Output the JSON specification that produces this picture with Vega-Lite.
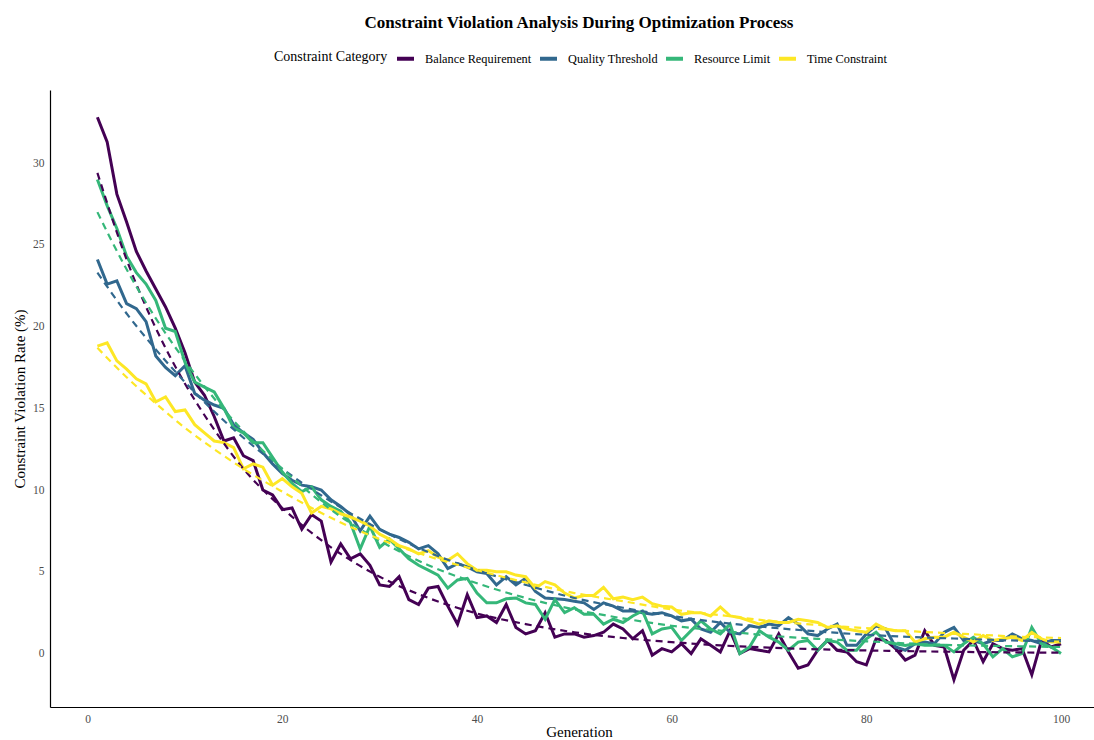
{
"$schema": "https://vega.github.io/schema/vega-lite/v6.json",
"width": 1044, "height": 617,
"autosize": {"type": "none"},
"padding": {"left": 50, "top": 90, "right": 0, "bottom": 33},
"background": "white",
"config": {"view": {"stroke": null}, "font": "Liberation Serif"},
"title": {"text": "Constraint Violation Analysis During Optimization Process", "fontSize": 17, "fontWeight": "bold", "font": "Liberation Serif", "color": "black", "anchor": "middle", "frame": "group", "offset": 16, "dx": 7},
"datasets": {
"obs": [
{"gen":1,"cat":"Balance Requirement","rate":32.8},{"gen":2,"cat":"Balance Requirement","rate":31.3},{"gen":3,"cat":"Balance Requirement","rate":28.1},{"gen":4,"cat":"Balance Requirement","rate":26.4},{"gen":5,"cat":"Balance Requirement","rate":24.6},{"gen":6,"cat":"Balance Requirement","rate":23.4},{"gen":7,"cat":"Balance Requirement","rate":22.3},{"gen":8,"cat":"Balance Requirement","rate":21.2},{"gen":9,"cat":"Balance Requirement","rate":19.9},{"gen":10,"cat":"Balance Requirement","rate":18.4},
{"gen":11,"cat":"Balance Requirement","rate":16.6},{"gen":12,"cat":"Balance Requirement","rate":15.8},{"gen":13,"cat":"Balance Requirement","rate":14.5},{"gen":14,"cat":"Balance Requirement","rate":13.0},{"gen":15,"cat":"Balance Requirement","rate":13.2},{"gen":16,"cat":"Balance Requirement","rate":12.1},{"gen":17,"cat":"Balance Requirement","rate":11.8},{"gen":18,"cat":"Balance Requirement","rate":10.0},{"gen":19,"cat":"Balance Requirement","rate":9.7},{"gen":20,"cat":"Balance Requirement","rate":8.8},
{"gen":21,"cat":"Balance Requirement","rate":8.9},{"gen":22,"cat":"Balance Requirement","rate":7.6},{"gen":23,"cat":"Balance Requirement","rate":8.5},{"gen":24,"cat":"Balance Requirement","rate":8.1},{"gen":25,"cat":"Balance Requirement","rate":5.6},{"gen":26,"cat":"Balance Requirement","rate":6.7},{"gen":27,"cat":"Balance Requirement","rate":5.8},{"gen":28,"cat":"Balance Requirement","rate":6.1},{"gen":29,"cat":"Balance Requirement","rate":5.4},{"gen":30,"cat":"Balance Requirement","rate":4.2},
{"gen":31,"cat":"Balance Requirement","rate":4.1},{"gen":32,"cat":"Balance Requirement","rate":4.7},{"gen":33,"cat":"Balance Requirement","rate":3.3},{"gen":34,"cat":"Balance Requirement","rate":3.0},{"gen":35,"cat":"Balance Requirement","rate":4.0},{"gen":36,"cat":"Balance Requirement","rate":4.1},{"gen":37,"cat":"Balance Requirement","rate":2.9},{"gen":38,"cat":"Balance Requirement","rate":1.8},{"gen":39,"cat":"Balance Requirement","rate":3.6},{"gen":40,"cat":"Balance Requirement","rate":2.2},
{"gen":41,"cat":"Balance Requirement","rate":2.3},{"gen":42,"cat":"Balance Requirement","rate":1.9},{"gen":43,"cat":"Balance Requirement","rate":3.0},{"gen":44,"cat":"Balance Requirement","rate":1.6},{"gen":45,"cat":"Balance Requirement","rate":1.2},{"gen":46,"cat":"Balance Requirement","rate":1.4},{"gen":47,"cat":"Balance Requirement","rate":2.5},{"gen":48,"cat":"Balance Requirement","rate":1.0},{"gen":49,"cat":"Balance Requirement","rate":1.2},{"gen":50,"cat":"Balance Requirement","rate":1.2},
{"gen":51,"cat":"Balance Requirement","rate":1.0},{"gen":52,"cat":"Balance Requirement","rate":1.1},{"gen":53,"cat":"Balance Requirement","rate":1.3},{"gen":54,"cat":"Balance Requirement","rate":1.8},{"gen":55,"cat":"Balance Requirement","rate":1.5},{"gen":56,"cat":"Balance Requirement","rate":0.9},{"gen":57,"cat":"Balance Requirement","rate":1.4},{"gen":58,"cat":"Balance Requirement","rate":-0.1},{"gen":59,"cat":"Balance Requirement","rate":0.3},{"gen":60,"cat":"Balance Requirement","rate":0.1},
{"gen":61,"cat":"Balance Requirement","rate":0.6},{"gen":62,"cat":"Balance Requirement","rate":0.0},{"gen":63,"cat":"Balance Requirement","rate":0.9},{"gen":64,"cat":"Balance Requirement","rate":0.5},{"gen":65,"cat":"Balance Requirement","rate":0.1},{"gen":66,"cat":"Balance Requirement","rate":1.4},{"gen":67,"cat":"Balance Requirement","rate":0.0},{"gen":68,"cat":"Balance Requirement","rate":0.3},{"gen":69,"cat":"Balance Requirement","rate":0.2},{"gen":70,"cat":"Balance Requirement","rate":0.1},
{"gen":71,"cat":"Balance Requirement","rate":1.2},{"gen":72,"cat":"Balance Requirement","rate":0.1},{"gen":73,"cat":"Balance Requirement","rate":-0.9},{"gen":74,"cat":"Balance Requirement","rate":-0.7},{"gen":75,"cat":"Balance Requirement","rate":0.2},{"gen":76,"cat":"Balance Requirement","rate":0.8},{"gen":77,"cat":"Balance Requirement","rate":0.2},{"gen":78,"cat":"Balance Requirement","rate":0.1},{"gen":79,"cat":"Balance Requirement","rate":-0.5},{"gen":80,"cat":"Balance Requirement","rate":-0.7},
{"gen":81,"cat":"Balance Requirement","rate":0.9},{"gen":82,"cat":"Balance Requirement","rate":0.8},{"gen":83,"cat":"Balance Requirement","rate":0.3},{"gen":84,"cat":"Balance Requirement","rate":-0.4},{"gen":85,"cat":"Balance Requirement","rate":-0.1},{"gen":86,"cat":"Balance Requirement","rate":1.4},{"gen":87,"cat":"Balance Requirement","rate":0.5},{"gen":88,"cat":"Balance Requirement","rate":0.4},{"gen":89,"cat":"Balance Requirement","rate":-1.6},{"gen":90,"cat":"Balance Requirement","rate":0.2},
{"gen":91,"cat":"Balance Requirement","rate":0.8},{"gen":92,"cat":"Balance Requirement","rate":-0.5},{"gen":93,"cat":"Balance Requirement","rate":0.6},{"gen":94,"cat":"Balance Requirement","rate":0.3},{"gen":95,"cat":"Balance Requirement","rate":0.2},{"gen":96,"cat":"Balance Requirement","rate":0.3},{"gen":97,"cat":"Balance Requirement","rate":-1.3},{"gen":98,"cat":"Balance Requirement","rate":0.8},{"gen":99,"cat":"Balance Requirement","rate":0.4},{"gen":100,"cat":"Balance Requirement","rate":0.6},
{"gen":1,"cat":"Quality Threshold","rate":24.1},{"gen":2,"cat":"Quality Threshold","rate":22.6},{"gen":3,"cat":"Quality Threshold","rate":22.8},{"gen":4,"cat":"Quality Threshold","rate":21.4},{"gen":5,"cat":"Quality Threshold","rate":21.1},{"gen":6,"cat":"Quality Threshold","rate":20.3},{"gen":7,"cat":"Quality Threshold","rate":18.2},{"gen":8,"cat":"Quality Threshold","rate":17.5},{"gen":9,"cat":"Quality Threshold","rate":17.0},{"gen":10,"cat":"Quality Threshold","rate":17.6},
{"gen":11,"cat":"Quality Threshold","rate":15.9},{"gen":12,"cat":"Quality Threshold","rate":15.5},{"gen":13,"cat":"Quality Threshold","rate":15.2},{"gen":14,"cat":"Quality Threshold","rate":15.0},{"gen":15,"cat":"Quality Threshold","rate":14.0},{"gen":16,"cat":"Quality Threshold","rate":13.5},{"gen":17,"cat":"Quality Threshold","rate":13.1},{"gen":18,"cat":"Quality Threshold","rate":12.3},{"gen":19,"cat":"Quality Threshold","rate":11.6},{"gen":20,"cat":"Quality Threshold","rate":11.0},
{"gen":21,"cat":"Quality Threshold","rate":10.6},{"gen":22,"cat":"Quality Threshold","rate":10.3},{"gen":23,"cat":"Quality Threshold","rate":10.2},{"gen":24,"cat":"Quality Threshold","rate":10.0},{"gen":25,"cat":"Quality Threshold","rate":9.4},{"gen":26,"cat":"Quality Threshold","rate":9.0},{"gen":27,"cat":"Quality Threshold","rate":8.5},{"gen":28,"cat":"Quality Threshold","rate":7.5},{"gen":29,"cat":"Quality Threshold","rate":8.4},{"gen":30,"cat":"Quality Threshold","rate":7.6},
{"gen":31,"cat":"Quality Threshold","rate":7.3},{"gen":32,"cat":"Quality Threshold","rate":7.1},{"gen":33,"cat":"Quality Threshold","rate":6.8},{"gen":34,"cat":"Quality Threshold","rate":6.4},{"gen":35,"cat":"Quality Threshold","rate":6.6},{"gen":36,"cat":"Quality Threshold","rate":6.1},{"gen":37,"cat":"Quality Threshold","rate":5.2},{"gen":38,"cat":"Quality Threshold","rate":5.5},{"gen":39,"cat":"Quality Threshold","rate":5.3},{"gen":40,"cat":"Quality Threshold","rate":5.0},
{"gen":41,"cat":"Quality Threshold","rate":4.9},{"gen":42,"cat":"Quality Threshold","rate":4.2},{"gen":43,"cat":"Quality Threshold","rate":4.7},{"gen":44,"cat":"Quality Threshold","rate":4.2},{"gen":45,"cat":"Quality Threshold","rate":4.6},{"gen":46,"cat":"Quality Threshold","rate":3.8},{"gen":47,"cat":"Quality Threshold","rate":3.4},{"gen":48,"cat":"Quality Threshold","rate":3.35},{"gen":49,"cat":"Quality Threshold","rate":3.3},{"gen":50,"cat":"Quality Threshold","rate":3.2},
{"gen":51,"cat":"Quality Threshold","rate":3.1},{"gen":52,"cat":"Quality Threshold","rate":2.7},{"gen":53,"cat":"Quality Threshold","rate":3.1},{"gen":54,"cat":"Quality Threshold","rate":2.9},{"gen":55,"cat":"Quality Threshold","rate":2.6},{"gen":56,"cat":"Quality Threshold","rate":2.6},{"gen":57,"cat":"Quality Threshold","rate":2.5},{"gen":58,"cat":"Quality Threshold","rate":2.4},{"gen":59,"cat":"Quality Threshold","rate":2.5},{"gen":60,"cat":"Quality Threshold","rate":2.3},
{"gen":61,"cat":"Quality Threshold","rate":2.0},{"gen":62,"cat":"Quality Threshold","rate":2.1},{"gen":63,"cat":"Quality Threshold","rate":1.5},{"gen":64,"cat":"Quality Threshold","rate":1.3},{"gen":65,"cat":"Quality Threshold","rate":1.9},{"gen":66,"cat":"Quality Threshold","rate":1.3},{"gen":67,"cat":"Quality Threshold","rate":1.2},{"gen":68,"cat":"Quality Threshold","rate":1.7},{"gen":69,"cat":"Quality Threshold","rate":1.6},{"gen":70,"cat":"Quality Threshold","rate":1.8},
{"gen":71,"cat":"Quality Threshold","rate":1.7},{"gen":72,"cat":"Quality Threshold","rate":2.2},{"gen":73,"cat":"Quality Threshold","rate":1.8},{"gen":74,"cat":"Quality Threshold","rate":1.2},{"gen":75,"cat":"Quality Threshold","rate":1.1},{"gen":76,"cat":"Quality Threshold","rate":1.5},{"gen":77,"cat":"Quality Threshold","rate":1.8},{"gen":78,"cat":"Quality Threshold","rate":0.5},{"gen":79,"cat":"Quality Threshold","rate":0.5},{"gen":80,"cat":"Quality Threshold","rate":1.2},
{"gen":81,"cat":"Quality Threshold","rate":1.7},{"gen":82,"cat":"Quality Threshold","rate":1.5},{"gen":83,"cat":"Quality Threshold","rate":0.4},{"gen":84,"cat":"Quality Threshold","rate":0.2},{"gen":85,"cat":"Quality Threshold","rate":0.6},{"gen":86,"cat":"Quality Threshold","rate":0.7},{"gen":87,"cat":"Quality Threshold","rate":0.6},{"gen":88,"cat":"Quality Threshold","rate":1.3},{"gen":89,"cat":"Quality Threshold","rate":1.6},{"gen":90,"cat":"Quality Threshold","rate":0.8},
{"gen":91,"cat":"Quality Threshold","rate":0.8},{"gen":92,"cat":"Quality Threshold","rate":0.6},{"gen":93,"cat":"Quality Threshold","rate":0.8},{"gen":94,"cat":"Quality Threshold","rate":0.8},{"gen":95,"cat":"Quality Threshold","rate":1.2},{"gen":96,"cat":"Quality Threshold","rate":0.9},{"gen":97,"cat":"Quality Threshold","rate":0.8},{"gen":98,"cat":"Quality Threshold","rate":0.6},{"gen":99,"cat":"Quality Threshold","rate":0.8},{"gen":100,"cat":"Quality Threshold","rate":0.8},
{"gen":1,"cat":"Resource Limit","rate":29.0},{"gen":2,"cat":"Resource Limit","rate":27.4},{"gen":3,"cat":"Resource Limit","rate":26.0},{"gen":4,"cat":"Resource Limit","rate":24.3},{"gen":5,"cat":"Resource Limit","rate":23.3},{"gen":6,"cat":"Resource Limit","rate":22.6},{"gen":7,"cat":"Resource Limit","rate":21.6},{"gen":8,"cat":"Resource Limit","rate":19.9},{"gen":9,"cat":"Resource Limit","rate":19.7},{"gen":10,"cat":"Resource Limit","rate":17.8},
{"gen":11,"cat":"Resource Limit","rate":16.6},{"gen":12,"cat":"Resource Limit","rate":16.3},{"gen":13,"cat":"Resource Limit","rate":16.0},{"gen":14,"cat":"Resource Limit","rate":15.0},{"gen":15,"cat":"Resource Limit","rate":13.8},{"gen":16,"cat":"Resource Limit","rate":13.5},{"gen":17,"cat":"Resource Limit","rate":12.9},{"gen":18,"cat":"Resource Limit","rate":12.9},{"gen":19,"cat":"Resource Limit","rate":12.0},{"gen":20,"cat":"Resource Limit","rate":11.1},
{"gen":21,"cat":"Resource Limit","rate":10.4},{"gen":22,"cat":"Resource Limit","rate":9.9},{"gen":23,"cat":"Resource Limit","rate":10.2},{"gen":24,"cat":"Resource Limit","rate":9.4},{"gen":25,"cat":"Resource Limit","rate":9.0},{"gen":26,"cat":"Resource Limit","rate":8.7},{"gen":27,"cat":"Resource Limit","rate":8.0},{"gen":28,"cat":"Resource Limit","rate":6.4},{"gen":29,"cat":"Resource Limit","rate":7.8},{"gen":30,"cat":"Resource Limit","rate":6.5},
{"gen":31,"cat":"Resource Limit","rate":7.0},{"gen":32,"cat":"Resource Limit","rate":6.4},{"gen":33,"cat":"Resource Limit","rate":5.8},{"gen":34,"cat":"Resource Limit","rate":5.4},{"gen":35,"cat":"Resource Limit","rate":5.1},{"gen":36,"cat":"Resource Limit","rate":4.8},{"gen":37,"cat":"Resource Limit","rate":4.0},{"gen":38,"cat":"Resource Limit","rate":4.5},{"gen":39,"cat":"Resource Limit","rate":4.6},{"gen":40,"cat":"Resource Limit","rate":3.7},
{"gen":41,"cat":"Resource Limit","rate":3.1},{"gen":42,"cat":"Resource Limit","rate":3.1},{"gen":43,"cat":"Resource Limit","rate":3.35},{"gen":44,"cat":"Resource Limit","rate":3.4},{"gen":45,"cat":"Resource Limit","rate":3.1},{"gen":46,"cat":"Resource Limit","rate":3.0},{"gen":47,"cat":"Resource Limit","rate":2.1},{"gen":48,"cat":"Resource Limit","rate":3.3},{"gen":49,"cat":"Resource Limit","rate":2.5},{"gen":50,"cat":"Resource Limit","rate":2.8},
{"gen":51,"cat":"Resource Limit","rate":2.4},{"gen":52,"cat":"Resource Limit","rate":2.4},{"gen":53,"cat":"Resource Limit","rate":1.8},{"gen":54,"cat":"Resource Limit","rate":2.1},{"gen":55,"cat":"Resource Limit","rate":1.9},{"gen":56,"cat":"Resource Limit","rate":2.3},{"gen":57,"cat":"Resource Limit","rate":2.6},{"gen":58,"cat":"Resource Limit","rate":1.2},{"gen":59,"cat":"Resource Limit","rate":1.5},{"gen":60,"cat":"Resource Limit","rate":1.6},
{"gen":61,"cat":"Resource Limit","rate":0.8},{"gen":62,"cat":"Resource Limit","rate":1.4},{"gen":63,"cat":"Resource Limit","rate":2.0},{"gen":64,"cat":"Resource Limit","rate":1.5},{"gen":65,"cat":"Resource Limit","rate":1.2},{"gen":66,"cat":"Resource Limit","rate":1.8},{"gen":67,"cat":"Resource Limit","rate":0.0},{"gen":68,"cat":"Resource Limit","rate":0.4},{"gen":69,"cat":"Resource Limit","rate":1.4},{"gen":70,"cat":"Resource Limit","rate":1.0},
{"gen":71,"cat":"Resource Limit","rate":0.7},{"gen":72,"cat":"Resource Limit","rate":0.2},{"gen":73,"cat":"Resource Limit","rate":0.7},{"gen":74,"cat":"Resource Limit","rate":0.8},{"gen":75,"cat":"Resource Limit","rate":0.2},{"gen":76,"cat":"Resource Limit","rate":0.8},{"gen":77,"cat":"Resource Limit","rate":0.7},{"gen":78,"cat":"Resource Limit","rate":0.2},{"gen":79,"cat":"Resource Limit","rate":0.2},{"gen":80,"cat":"Resource Limit","rate":0.9},
{"gen":81,"cat":"Resource Limit","rate":1.3},{"gen":82,"cat":"Resource Limit","rate":0.7},{"gen":83,"cat":"Resource Limit","rate":0.6},{"gen":84,"cat":"Resource Limit","rate":0.5},{"gen":85,"cat":"Resource Limit","rate":0.6},{"gen":86,"cat":"Resource Limit","rate":0.5},{"gen":87,"cat":"Resource Limit","rate":0.5},{"gen":88,"cat":"Resource Limit","rate":0.5},{"gen":89,"cat":"Resource Limit","rate":0.1},{"gen":90,"cat":"Resource Limit","rate":0.6},
{"gen":91,"cat":"Resource Limit","rate":1.0},{"gen":92,"cat":"Resource Limit","rate":0.6},{"gen":93,"cat":"Resource Limit","rate":-0.2},{"gen":94,"cat":"Resource Limit","rate":0.3},{"gen":95,"cat":"Resource Limit","rate":-0.2},{"gen":96,"cat":"Resource Limit","rate":0.0},{"gen":97,"cat":"Resource Limit","rate":1.6},{"gen":98,"cat":"Resource Limit","rate":0.6},{"gen":99,"cat":"Resource Limit","rate":0.4},{"gen":100,"cat":"Resource Limit","rate":0.0},
{"gen":1,"cat":"Time Constraint","rate":18.8},{"gen":2,"cat":"Time Constraint","rate":19.0},{"gen":3,"cat":"Time Constraint","rate":17.9},{"gen":4,"cat":"Time Constraint","rate":17.4},{"gen":5,"cat":"Time Constraint","rate":16.8},{"gen":6,"cat":"Time Constraint","rate":16.5},{"gen":7,"cat":"Time Constraint","rate":15.4},{"gen":8,"cat":"Time Constraint","rate":15.7},{"gen":9,"cat":"Time Constraint","rate":14.8},{"gen":10,"cat":"Time Constraint","rate":14.9},
{"gen":11,"cat":"Time Constraint","rate":14.0},{"gen":12,"cat":"Time Constraint","rate":13.5},{"gen":13,"cat":"Time Constraint","rate":13.0},{"gen":14,"cat":"Time Constraint","rate":12.9},{"gen":15,"cat":"Time Constraint","rate":12.6},{"gen":16,"cat":"Time Constraint","rate":11.3},{"gen":17,"cat":"Time Constraint","rate":11.6},{"gen":18,"cat":"Time Constraint","rate":11.4},{"gen":19,"cat":"Time Constraint","rate":10.3},{"gen":20,"cat":"Time Constraint","rate":10.7},
{"gen":21,"cat":"Time Constraint","rate":10.2},{"gen":22,"cat":"Time Constraint","rate":9.8},{"gen":23,"cat":"Time Constraint","rate":8.6},{"gen":24,"cat":"Time Constraint","rate":9.0},{"gen":25,"cat":"Time Constraint","rate":8.85},{"gen":26,"cat":"Time Constraint","rate":8.55},{"gen":27,"cat":"Time Constraint","rate":8.35},{"gen":28,"cat":"Time Constraint","rate":8.1},{"gen":29,"cat":"Time Constraint","rate":7.8},{"gen":30,"cat":"Time Constraint","rate":7.3},
{"gen":31,"cat":"Time Constraint","rate":7.0},{"gen":32,"cat":"Time Constraint","rate":6.6},{"gen":33,"cat":"Time Constraint","rate":6.4},{"gen":34,"cat":"Time Constraint","rate":6.1},{"gen":35,"cat":"Time Constraint","rate":6.3},{"gen":36,"cat":"Time Constraint","rate":5.9},{"gen":37,"cat":"Time Constraint","rate":5.7},{"gen":38,"cat":"Time Constraint","rate":6.1},{"gen":39,"cat":"Time Constraint","rate":5.5},{"gen":40,"cat":"Time Constraint","rate":5.1},
{"gen":41,"cat":"Time Constraint","rate":5.1},{"gen":42,"cat":"Time Constraint","rate":5.0},{"gen":43,"cat":"Time Constraint","rate":5.0},{"gen":44,"cat":"Time Constraint","rate":4.8},{"gen":45,"cat":"Time Constraint","rate":4.7},{"gen":46,"cat":"Time Constraint","rate":4.0},{"gen":47,"cat":"Time Constraint","rate":4.4},{"gen":48,"cat":"Time Constraint","rate":4.2},{"gen":49,"cat":"Time Constraint","rate":3.7},{"gen":50,"cat":"Time Constraint","rate":3.4},
{"gen":51,"cat":"Time Constraint","rate":3.55},{"gen":52,"cat":"Time Constraint","rate":3.55},{"gen":53,"cat":"Time Constraint","rate":4.05},{"gen":54,"cat":"Time Constraint","rate":3.35},{"gen":55,"cat":"Time Constraint","rate":3.45},{"gen":56,"cat":"Time Constraint","rate":3.3},{"gen":57,"cat":"Time Constraint","rate":3.45},{"gen":58,"cat":"Time Constraint","rate":3.05},{"gen":59,"cat":"Time Constraint","rate":2.9},{"gen":60,"cat":"Time Constraint","rate":2.85},
{"gen":61,"cat":"Time Constraint","rate":2.4},{"gen":62,"cat":"Time Constraint","rate":2.5},{"gen":63,"cat":"Time Constraint","rate":2.5},{"gen":64,"cat":"Time Constraint","rate":2.3},{"gen":65,"cat":"Time Constraint","rate":2.85},{"gen":66,"cat":"Time Constraint","rate":2.3},{"gen":67,"cat":"Time Constraint","rate":2.2},{"gen":68,"cat":"Time Constraint","rate":2.0},{"gen":69,"cat":"Time Constraint","rate":1.8},{"gen":70,"cat":"Time Constraint","rate":2.0},
{"gen":71,"cat":"Time Constraint","rate":1.9},{"gen":72,"cat":"Time Constraint","rate":1.9},{"gen":73,"cat":"Time Constraint","rate":2.1},{"gen":74,"cat":"Time Constraint","rate":2.0},{"gen":75,"cat":"Time Constraint","rate":1.9},{"gen":76,"cat":"Time Constraint","rate":1.6},{"gen":77,"cat":"Time Constraint","rate":1.7},{"gen":78,"cat":"Time Constraint","rate":1.5},{"gen":79,"cat":"Time Constraint","rate":1.4},{"gen":80,"cat":"Time Constraint","rate":1.3},
{"gen":81,"cat":"Time Constraint","rate":1.8},{"gen":82,"cat":"Time Constraint","rate":1.5},{"gen":83,"cat":"Time Constraint","rate":1.4},{"gen":84,"cat":"Time Constraint","rate":1.4},{"gen":85,"cat":"Time Constraint","rate":0.7},{"gen":86,"cat":"Time Constraint","rate":0.9},{"gen":87,"cat":"Time Constraint","rate":1.0},{"gen":88,"cat":"Time Constraint","rate":1.0},{"gen":89,"cat":"Time Constraint","rate":1.3},{"gen":90,"cat":"Time Constraint","rate":1.0},
{"gen":91,"cat":"Time Constraint","rate":0.7},{"gen":92,"cat":"Time Constraint","rate":1.1},{"gen":93,"cat":"Time Constraint","rate":0.8},{"gen":94,"cat":"Time Constraint","rate":0.9},{"gen":95,"cat":"Time Constraint","rate":1.0},{"gen":96,"cat":"Time Constraint","rate":0.8},{"gen":97,"cat":"Time Constraint","rate":1.3},{"gen":98,"cat":"Time Constraint","rate":0.9},{"gen":99,"cat":"Time Constraint","rate":0.7},{"gen":100,"cat":"Time Constraint","rate":0.7}
],
"fit": [
{"gen":1,"cat":"Balance Requirement","rate":29.4},{"gen":4,"cat":"Balance Requirement","rate":24.1},{"gen":7,"cat":"Balance Requirement","rate":19.9},{"gen":10,"cat":"Balance Requirement","rate":16.5},{"gen":13,"cat":"Balance Requirement","rate":13.7},{"gen":16,"cat":"Balance Requirement","rate":11.3},{"gen":20,"cat":"Balance Requirement","rate":8.9},{"gen":25,"cat":"Balance Requirement","rate":6.5},{"gen":30,"cat":"Balance Requirement","rate":4.7},{"gen":35,"cat":"Balance Requirement","rate":3.4},{"gen":40,"cat":"Balance Requirement","rate":2.45},{"gen":45,"cat":"Balance Requirement","rate":1.8},{"gen":50,"cat":"Balance Requirement","rate":1.3},{"gen":55,"cat":"Balance Requirement","rate":0.95},{"gen":60,"cat":"Balance Requirement","rate":0.7},{"gen":65,"cat":"Balance Requirement","rate":0.5},{"gen":70,"cat":"Balance Requirement","rate":0.36},{"gen":75,"cat":"Balance Requirement","rate":0.26},{"gen":80,"cat":"Balance Requirement","rate":0.19},{"gen":85,"cat":"Balance Requirement","rate":0.14},{"gen":90,"cat":"Balance Requirement","rate":0.1},{"gen":95,"cat":"Balance Requirement","rate":0.07},{"gen":100,"cat":"Balance Requirement","rate":0.05},
{"gen":1,"cat":"Quality Threshold","rate":23.3},{"gen":4,"cat":"Quality Threshold","rate":20.8},{"gen":7,"cat":"Quality Threshold","rate":18.6},{"gen":10,"cat":"Quality Threshold","rate":16.6},{"gen":13,"cat":"Quality Threshold","rate":14.8},{"gen":16,"cat":"Quality Threshold","rate":13.2},{"gen":20,"cat":"Quality Threshold","rate":11.3},{"gen":25,"cat":"Quality Threshold","rate":9.3},{"gen":30,"cat":"Quality Threshold","rate":7.6},{"gen":35,"cat":"Quality Threshold","rate":6.2},{"gen":40,"cat":"Quality Threshold","rate":5.1},{"gen":45,"cat":"Quality Threshold","rate":4.2},{"gen":50,"cat":"Quality Threshold","rate":3.4},{"gen":55,"cat":"Quality Threshold","rate":2.8},{"gen":60,"cat":"Quality Threshold","rate":2.3},{"gen":65,"cat":"Quality Threshold","rate":1.9},{"gen":70,"cat":"Quality Threshold","rate":1.6},{"gen":75,"cat":"Quality Threshold","rate":1.35},{"gen":80,"cat":"Quality Threshold","rate":1.15},{"gen":85,"cat":"Quality Threshold","rate":1.0},{"gen":90,"cat":"Quality Threshold","rate":0.9},{"gen":95,"cat":"Quality Threshold","rate":0.8},{"gen":100,"cat":"Quality Threshold","rate":0.75},
{"gen":1,"cat":"Resource Limit","rate":27.0},{"gen":4,"cat":"Resource Limit","rate":23.5},{"gen":7,"cat":"Resource Limit","rate":20.5},{"gen":10,"cat":"Resource Limit","rate":17.9},{"gen":13,"cat":"Resource Limit","rate":15.6},{"gen":16,"cat":"Resource Limit","rate":13.6},{"gen":20,"cat":"Resource Limit","rate":11.3},{"gen":25,"cat":"Resource Limit","rate":8.8},{"gen":30,"cat":"Resource Limit","rate":6.9},{"gen":35,"cat":"Resource Limit","rate":5.4},{"gen":40,"cat":"Resource Limit","rate":4.3},{"gen":45,"cat":"Resource Limit","rate":3.4},{"gen":50,"cat":"Resource Limit","rate":2.7},{"gen":55,"cat":"Resource Limit","rate":2.15},{"gen":60,"cat":"Resource Limit","rate":1.7},{"gen":65,"cat":"Resource Limit","rate":1.4},{"gen":70,"cat":"Resource Limit","rate":1.1},{"gen":75,"cat":"Resource Limit","rate":0.9},{"gen":80,"cat":"Resource Limit","rate":0.75},{"gen":85,"cat":"Resource Limit","rate":0.6},{"gen":90,"cat":"Resource Limit","rate":0.5},{"gen":95,"cat":"Resource Limit","rate":0.45},{"gen":100,"cat":"Resource Limit","rate":0.4},
{"gen":1,"cat":"Time Constraint","rate":18.7},{"gen":4,"cat":"Time Constraint","rate":16.9},{"gen":7,"cat":"Time Constraint","rate":15.3},{"gen":10,"cat":"Time Constraint","rate":13.8},{"gen":13,"cat":"Time Constraint","rate":12.5},{"gen":16,"cat":"Time Constraint","rate":11.3},{"gen":20,"cat":"Time Constraint","rate":9.9},{"gen":25,"cat":"Time Constraint","rate":8.3},{"gen":30,"cat":"Time Constraint","rate":7.0},{"gen":35,"cat":"Time Constraint","rate":5.95},{"gen":40,"cat":"Time Constraint","rate":5.1},{"gen":45,"cat":"Time Constraint","rate":4.35},{"gen":50,"cat":"Time Constraint","rate":3.7},{"gen":55,"cat":"Time Constraint","rate":3.2},{"gen":60,"cat":"Time Constraint","rate":2.7},{"gen":65,"cat":"Time Constraint","rate":2.35},{"gen":70,"cat":"Time Constraint","rate":2.0},{"gen":75,"cat":"Time Constraint","rate":1.75},{"gen":80,"cat":"Time Constraint","rate":1.55},{"gen":85,"cat":"Time Constraint","rate":1.35},{"gen":90,"cat":"Time Constraint","rate":1.2},{"gen":95,"cat":"Time Constraint","rate":1.05},{"gen":100,"cat":"Time Constraint","rate":0.95}
]
},
"layer": [
{"data": {"name": "obs"},
 "mark": {"type": "line", "strokeWidth": 3, "clip": true},
 "encoding": {
  "x": {"field": "gen", "type": "quantitative", "scale": {"domain": [-3.87, 103.39], "nice": false, "zero": false},
        "axis": {"title": "Generation", "values": [0,20,40,60,80,100], "grid": false, "ticks": false, "tickSize": 0, "domainColor": "black", "domainWidth": 1.2, "labelFont": "Liberation Serif", "labelFontSize": 11.5, "labelColor": "#4d4d4d", "labelPadding": 6, "titleFont": "Liberation Serif", "titleFontSize": 15, "titleFontWeight": "normal", "titleColor": "black", "titlePadding": 0, "titleX": 529}},
  "y": {"field": "rate", "type": "quantitative", "scale": {"domain": [-3.27, 34.47], "nice": false, "zero": false},
        "axis": {"title": "Constraint Violation Rate (%)", "values": [0,5,10,15,20,25,30], "grid": false, "ticks": false, "tickSize": 0, "domainColor": "black", "domainWidth": 1.2, "labelFont": "Liberation Serif", "labelFontSize": 11.5, "labelColor": "#4d4d4d", "labelPadding": 6, "titleFont": "Liberation Serif", "titleFontSize": 15, "titleFontWeight": "normal", "titleColor": "black", "titlePadding": 5}},
  "color": {"field": "cat", "type": "nominal",
    "scale": {"domain": ["Balance Requirement", "Quality Threshold", "Resource Limit", "Time Constraint"], "range": ["#440154", "#31688e", "#35b779", "#fde725"]},
    "legend": {"title": "Constraint Category", "orient": "none", "legendX": 224, "legendY": -42, "direction": "horizontal", "titleOrient": "left", "titleAnchor": "middle", "titleFont": "Liberation Serif", "titleFontSize": 14, "titleFontWeight": "normal", "titleColor": "black", "titlePadding": 7, "labelFont": "Liberation Serif", "labelFontSize": 12.3, "labelColor": "black", "symbolType": "stroke", "symbolSize": 289, "symbolStrokeWidth": 4, "labelOffset": 9, "columnPadding": 0, "padding": 0}}
 }},
{"data": {"name": "fit"},
 "mark": {"type": "line", "strokeWidth": 2.2, "strokeDash": [7, 5], "interpolate": "monotone", "clip": true},
 "encoding": {
  "x": {"field": "gen", "type": "quantitative"},
  "y": {"field": "rate", "type": "quantitative"},
  "color": {"field": "cat", "type": "nominal"}
 }}
]
}
